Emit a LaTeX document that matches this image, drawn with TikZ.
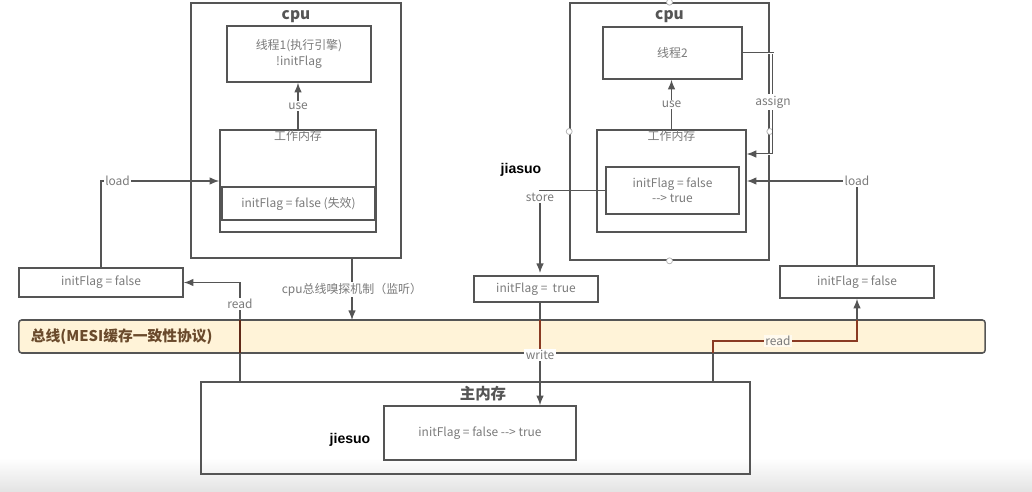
\documentclass[tikz,border=0pt]{standalone}
\usepackage{fontspec}
\setmainfont{Noto Sans CJK SC}
\newfontfamily\libsans{Liberation Sans}
\usetikzlibrary{arrows.meta}
\definecolor{edge}{HTML}{555555}
\definecolor{txt}{HTML}{7A7A7A}
\definecolor{busfill}{HTML}{FFF3D8}
\definecolor{bustxt}{HTML}{6A4A2C}
\definecolor{inbus}{HTML}{8A3A22}
\tikzset{
  box/.style={draw=edge, line width=1.1pt, inner sep=0pt, align=center,
    text=txt, font=\fontsize{8.5}{11}\selectfont},
  lbl/.style={fill=white, inner sep=1pt, text=txt, font=\fontsize{8.5}{10}\selectfont},
  ttl/.style={below, inner sep=3pt, text=edge, font=\fontsize{11}{12}\selectfont\bfseries},
  wire/.style={draw=edge, line width=0.9pt},
  arr/.style={wire, -{Latex[length=2.4mm,width=1.9mm]}},
  handle/.style={draw=gray!60, fill=white, line width=0.5pt},
}
\begin{document}
\begin{tikzpicture}[x=0.025cm, y=-0.025cm]
      \useasboundingbox (0,0) rectangle (1032,492);
      \shade[top color=white, bottom color=gray!22] (0,458) rectangle (1032,492);
      % left cpu
      \node[box, minimum width=5.25cm, minimum height=6.375cm] (c1) at (296,130.5) {};
      \node[ttl, yshift=-2.5pt] at (c1.north) {cpu};
      \node[box, minimum width=3.6cm, minimum height=1.4cm] (t1) at (299,54) {线程1(执行引擎)\\!initFlag};
      \node[box, minimum width=3.9cm, minimum height=2.55cm] (wm1) at (298,181) {};
      \node[below, inner sep=1pt, text=txt, font=\fontsize{8.5}{10}\selectfont] at (wm1.north) {工作内存};
      \node[box, line width=1.6pt, minimum width=3.825cm, minimum height=0.825cm] (in1) at (298.5,203.5) {initFlag = false (失效)};
      % right cpu
      \node[box, minimum width=4.975cm, minimum height=6.425cm] (c2) at (669.5,131.5) {};
      \node[ttl, yshift=-2.5pt] at (c2.north) {cpu};
      \node[box, minimum width=3.475cm, minimum height=1.3cm] (t2) at (672.5,53) {线程2};
      \node[box, minimum width=3.725cm, minimum height=2.55cm] (wm2) at (671.5,181) {};
      \node[below, inner sep=1pt, text=txt, font=\fontsize{8.5}{10}\selectfont] at (wm2.north) {工作内存};
      \node[box, minimum width=3.325cm, minimum height=1.175cm] (in2) at (672.5,190.5) {initFlag = false\\-{}-{}> true};
      \foreach \p in {c2.north, c2.west, c2.east, c2.south}
        \draw[handle] (\p) circle (3);
      % copies
      \node[box, minimum width=4.1cm, minimum height=0.725cm] (lc) at (101,282.5) {initFlag = false};
      \node[box, minimum width=3.1cm, minimum height=0.65cm] (tb) at (536,289) {initFlag =\ \ true};
      \node[box, minimum width=3.85cm, minimum height=0.8cm] (rc) at (857,282) {initFlag = false};
      % main memory
      \node[box, minimum width=13.725cm, minimum height=2.3cm] (mm) at (475.5,428) {};
      \node[ttl] at (483,382) {主内存};
      \node[box, minimum width=4.8cm, minimum height=1.35cm] (mi) at (480,433) {initFlag = false -{}-{}> true};
      % free ends
      \coordinate (r1) at (240,382);
      \coordinate (r2) at (713,382);
      \coordinate (r2b) at (713,341);
      \coordinate (sn) at (352,320);
      \coordinate (as) at (773,154);
      \coordinate (st) at (540,273);
      % bus
      \node[draw=edge, line width=1.1pt, fill=busfill, rounded corners=2pt, minimum width=24.15cm, minimum height=0.825cm] (bus) at (502,336.5) {};
      \node[anchor=west, text=bustxt, font=\fontsize{10.5}{12}\selectfont\bfseries] at (26,337) {总线(MESI缓存一致性协议)};
      % connectors
      \draw[arr] (wm1.north) -- (wm1.north |- t1.south) node[lbl, pos=0.5] {use};
      \draw[arr] (wm2.north) -- (wm2.north |- t2.south) node[lbl, pos=0.5] {use};
      \draw[arr] (lc.north) |- (wm1.west) node[lbl, pos=0.57] {load};
      \draw[arr] (rc.north) |- (wm2.east) node[lbl, pos=0.5] {load};
      \draw[arr] (c1.south -| sn) -- (sn) node[lbl, pos=0.5] {cpu总线嗅探机制（监听）};
      \draw[arr, double=white, double distance=0.7pt, line width=0.6pt] (t2.east) -| (as) -- (as -| wm2.east);
      \node[lbl] at (773,102) {assign};
      \draw[arr] (in2.west) -| (st) node[lbl, pos=0.54] {store};
      \begin{scope}
        \clip (0,0) rectangle (1032,320.5) (0,352.5) rectangle (1032,492);
        \draw[arr] (r1) |- (lc.east);
        \draw[arr] (tb.south -| st) -- (mi.north -| st);
        \draw[arr] (r2) -- (r2b) -| (rc.south);
      \end{scope}
      \begin{scope}
        \clip (0,320.5) rectangle (1032,352.5);
        \draw[wire, draw=inbus!70!black] (r1) |- (lc.east);
        \draw[wire, draw=inbus] (tb.south -| st) -- (mi.north -| st);
        \draw[wire, draw=inbus] (r2) -- (r2b) -| (rc.south);
      \end{scope}
      \node[lbl] at (240,304) {read};
      \node[lbl] at (540,355) {write};
      \node[lbl, fill=white!60!busfill] at (778,341) {read};
      % notes
      \node[font=\libsans\bfseries\fontsize{10}{12}\selectfont] at (521,170) {jiasuo};
      \node[font=\libsans\bfseries\fontsize{10}{12}\selectfont] at (350,440) {jiesuo};
\end{tikzpicture}
\end{document}
